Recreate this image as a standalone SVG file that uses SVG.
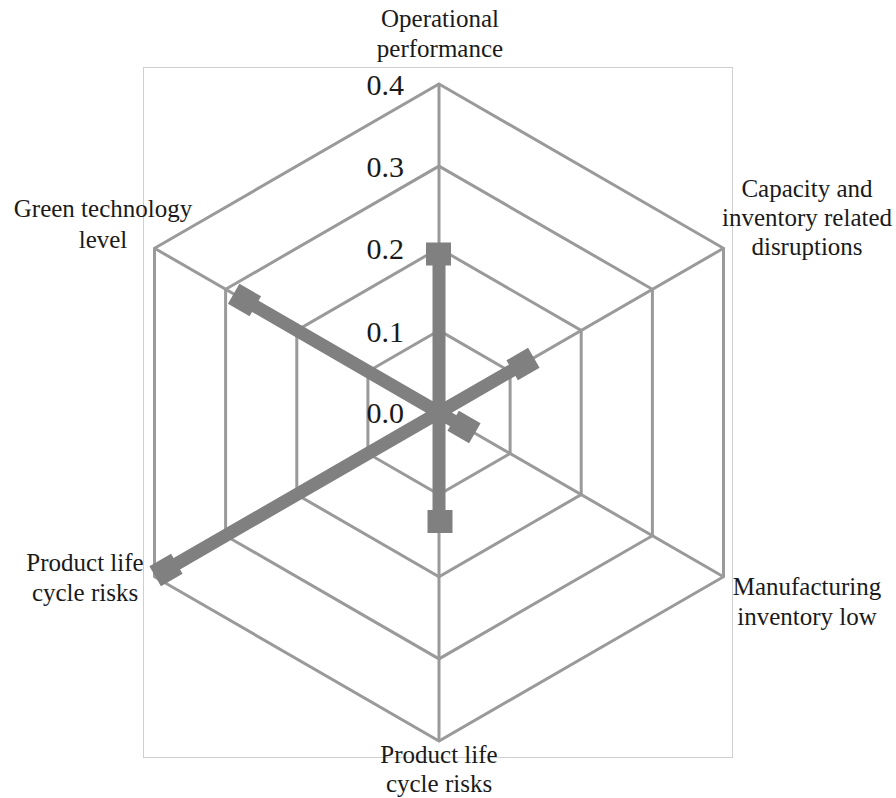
<svg xmlns="http://www.w3.org/2000/svg" width="896" height="798" viewBox="0 0 896 798">
<style>
.frame{fill:none;stroke:#cfcfcf;stroke-width:1}
.grid{fill:none;stroke:#9a9a9a;stroke-width:3}
.series{stroke:#808080;stroke-width:13;stroke-linecap:butt;fill:none}
.mk{fill:#808080}
.tick{font-family:'Liberation Serif','Tinos','DejaVu Serif',serif;font-size:30px;fill:#1a1a1a;text-anchor:end}
.lbl{font-family:'Liberation Serif','Tinos','DejaVu Serif',serif;font-size:25px;fill:#1a1a1a;text-anchor:middle}
</style>
<rect class="frame" x="143.5" y="67.5" width="589" height="690"/>
<g id="grid">
<polygon class="grid" points="439,84 723.5,248.25 723.5,576.75 439,741 154.5,576.75 154.5,248.25"/>
<polygon class="grid" points="439,166.1 652.4,289.3 652.4,535.7 439,658.9 225.6,535.7 225.6,289.3"/>
<polygon class="grid" points="439,248.25 581.2,330.4 581.2,494.6 439,576.75 296.8,494.6 296.8,330.4"/>
<polygon class="grid" points="439,330.4 510.1,371.5 510.1,453.5 439,494.6 367.9,453.5 367.9,371.5"/>
<path class="grid" d="M439,412.5 L439,84 M439,412.5 L723.5,248.25 M439,412.5 L723.5,576.75 M439,412.5 L439,741 M439,412.5 L154.5,576.75 M439,412.5 L154.5,248.25"/>
</g>
<g id="ticks">
<text class="tick" x="404" y="95">0.4</text>
<text class="tick" x="404" y="177">0.3</text>
<text class="tick" x="404" y="259">0.2</text>
<text class="tick" x="404" y="342">0.1</text>
<text class="tick" x="404" y="423">0.0</text>
</g>
<g id="connectors">
<path class="series" d="M439,412.5 L439,254 M439,412.5 L523,364 M439,412.5 L464,427 M439,412.5 L439,521.5 M439,412.5 L166,570 M439,412.5 L244.5,300"/>
</g>
<g id="markers">
<rect class="mk" x="-12.5" y="-11.5" width="25" height="23" transform="translate(438.5,254)"/>
<rect class="mk" x="-12.5" y="-11.5" width="25" height="23" transform="translate(523,364) rotate(-30)"/>
<rect class="mk" x="-12.5" y="-11.5" width="25" height="23" transform="translate(464,427) rotate(30)"/>
<rect class="mk" x="-12.5" y="-11.5" width="25" height="23" transform="translate(440,521.5)"/>
<rect class="mk" x="-12.5" y="-11.5" width="25" height="23" transform="translate(166,570) rotate(-30)"/>
<rect class="mk" x="-12.5" y="-11.5" width="25" height="23" transform="translate(244.5,300) rotate(30)"/>
</g>
<g id="label-operational">
<text class="lbl" x="440" y="27">Operational</text>
<text class="lbl" x="440" y="57">performance</text>
</g>
<g id="label-capacity">
<text class="lbl" x="807" y="197">Capacity and</text>
<text class="lbl" x="807" y="226">inventory related</text>
<text class="lbl" x="807" y="255">disruptions</text>
</g>
<g id="label-manufacturing">
<text class="lbl" x="807" y="595">Manufacturing</text>
<text class="lbl" x="807" y="625">inventory low</text>
</g>
<g id="label-plc-bottom">
<text class="lbl" x="439" y="763">Product life</text>
<text class="lbl" x="439" y="792">cycle risks</text>
</g>
<g id="label-plc-left">
<text class="lbl" x="85" y="571">Product life</text>
<text class="lbl" x="85" y="601">cycle risks</text>
</g>
<g id="label-green">
<text class="lbl" x="103" y="217">Green technology</text>
<text class="lbl" x="103" y="248">level</text>
</g>
</svg>
